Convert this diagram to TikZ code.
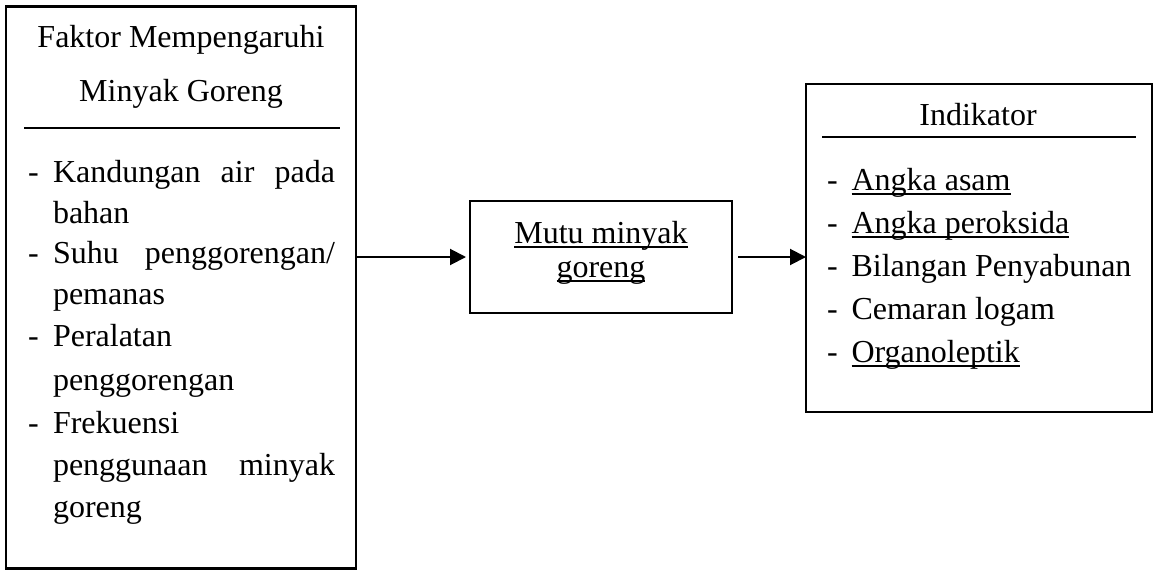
\documentclass[tikz,border=0pt]{standalone}
\usepackage{fontspec}
\setmainfont{Liberation Serif}
\usetikzlibrary{arrows.meta}
\newlength\ulw
\newcommand\myul[1]{\settowidth\ulw{#1}\rlap{\rule[-5pt]{\ulw}{2pt}}#1}
\tikzset{
  box/.style={draw, line width=2.2pt, inner sep=0pt, outer sep=0pt},
  txt/.style={inner sep=0pt, outer sep=0pt, anchor=base west, font=\fontsize{32}{40}\selectfont},
  ctxt/.style={txt, anchor=base},
  rulel/.style={line width=2.2pt},
  arr/.style={line width=2pt, -{Triangle[length=16pt,width=16pt]}}
}
\begin{document}
\begin{tikzpicture}[x=1pt,y=-1pt]
\useasboundingbox (0,0) rectangle (1154,570);
% boxes
\node[box, minimum width=350pt, minimum height=562pt] (left) at (181,287.5) {};
\node[box, minimum width=262pt, minimum height=112pt] (mid) at (601,257) {};
\node[box, minimum width=346pt, minimum height=328pt] (right) at (979,248) {};
% left box title
\node[ctxt] (lt1) at (181,47) {Faktor Mempengaruhi};
\node[ctxt] (lt2) at (181,101) {Minyak Goreng};
\draw[rulel] (24,128) -- (340,128);
% left list
\node[txt] (ld1) at (28,182) {-};
\node[txt] (l1) at (53,182) {\hbox to 282pt{Kandungan\hfill air\hfill pada}};
\node[txt] (l2) at (53,223) {bahan};
\node[txt] (ld2) at (28,263) {-};
\node[txt] (l3) at (53,263) {\hbox to 282pt{Suhu\hfill penggorengan/}};
\node[txt] (l4) at (53,304) {pemanas};
\node[txt] (ld3) at (28,346) {-};
\node[txt] (l5) at (53,346) {Peralatan};
\node[txt] (l6) at (53,390) {penggorengan};
\node[txt] (ld4) at (28,433) {-};
\node[txt] (l7) at (53,433) {Frekuensi};
\node[txt] (l8) at (53,475) {\hbox to 282pt{penggunaan\hfill minyak}};
\node[txt] (l9) at (53,517) {goreng};
% middle
\node[ctxt] (m1) at (601,243) {\myul{Mutu minyak}};
\node[ctxt] (m2) at (601,277) {\myul{goreng}};
% right box
\node[ctxt] (rt) at (978,125) {Indikator};
\draw[rulel] (822,137) -- (1136,137);
\node[txt] (rd1) at (827,190) {-};
\node[txt] (r1) at (851.5,190) {\myul{Angka asam}};
\node[txt] (rd2) at (827,233) {-};
\node[txt] (r2) at (851.5,233) {\myul{Angka peroksida}};
\node[txt] (rd3) at (827,276) {-};
\node[txt] (r3) at (851.5,276) {Bilangan Penyabunan};
\node[txt] (rd4) at (827,319) {-};
\node[txt] (r4) at (851.5,319) {Cemaran logam};
\node[txt] (rd5) at (827,362) {-};
\node[txt] (r5) at (851.5,362) {\myul{Organoleptik}};
% arrows
\draw[arr, shorten >=4pt] (left.east |- mid.west) -- (mid.west);
\draw[arr, shorten <=6pt] (mid.east) -- (right.west |- mid.east);
\end{tikzpicture}
\end{document}
